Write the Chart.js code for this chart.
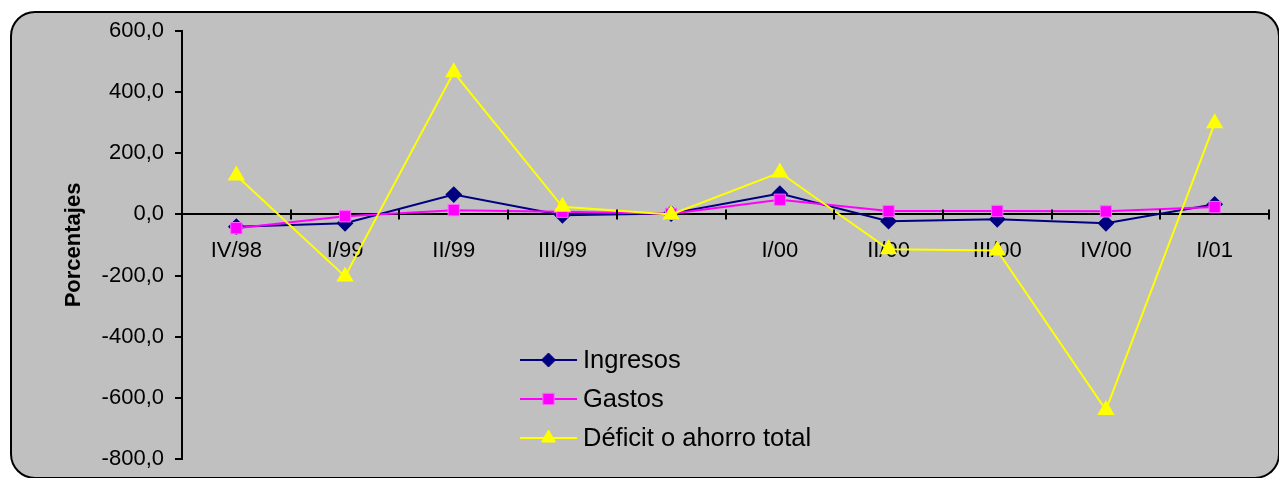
<!DOCTYPE html>
<html>
<head>
<meta charset="utf-8">
<script src="https://cdn.jsdelivr.net/npm/chart.js@4.4.0/dist/chart.umd.min.js"></script>
<style>
  html, body { margin: 0; padding: 0; background: #fff; overflow: hidden; }
  #frame {
    position: absolute; left: 10px; top: 11px; width: 1270px; height: 468px;
    box-sizing: border-box; border: 2px solid #000; border-radius: 25px; background: #c0c0c0;
  }
  #wrap { position: absolute; left: 0; top: 0; width: 1279px; height: 478px; }
</style>
</head>
<body>
<div id="frame"></div>
<div id="wrap"><canvas id="chart"></canvas></div>
<script>
// quarters shown on the x axis
const quarters = ['IV/98', 'I/99', 'II/99', 'III/99', 'IV/99', 'I/00', 'II/00', 'III/00', 'IV/00', 'I/01'];

// values (percent)
const ingresos = [-40, -29, 65, -3, 3, 68, -22, -16, -29, 33];
const gastos = [-45, -6, 14, 9, 2, 48, 11, 11, 10, 24];
const deficit = [127, -203, 465, 25, 0, 137, -114, -118, -640, 298];

const yTicks = [600, 400, 200, 0, -200, -400, -600, -800];

const FONT = '"Liberation Sans", Arial, sans-serif';

function fmt(v) {
    return v.toFixed(1).replace('.', ',');
}

// tick marks crossing the zero line at the category boundaries
const crossTicks = {
    id: 'crossTicks',
    afterDatasetsDraw(chart) {
        const xs = chart.scales.x;
        const ys = chart.scales.y;
        const ctx = chart.ctx;
        const y0 = ys.getPixelForValue(0);
        const step = xs.width / quarters.length;
        ctx.save();
        ctx.strokeStyle = '#000';
        ctx.lineWidth = 2;
        for (let i = 0; i <= quarters.length; i++) {
            const x = Math.round(xs.left + i * step);
            ctx.beginPath();
            ctx.moveTo(x, y0 - 5);
            ctx.lineTo(x, y0 + 5);
            ctx.stroke();
        }
        ctx.restore();
    }
};

// legend drawn inside the plot, like the original
const innerLegend = {
    id: 'innerLegend',
    afterDraw(chart) {
        const ctx = chart.ctx;
        const x1 = 520, x2 = 577;
        const rows = [360, 399, 438];
        ctx.save();
        chart.data.datasets.forEach(function(ds, i) {
            const y = rows[i];
            ctx.strokeStyle = ds.borderColor;
            ctx.lineWidth = 2;
            ctx.beginPath();
            ctx.moveTo(x1, y);
            ctx.lineTo(x2, y);
            ctx.stroke();
            ctx.fillStyle = ds.pointBackgroundColor;
            ctx.strokeStyle = ds.pointBorderColor;
            ctx.lineWidth = 1;
            Chart.helpers.drawPoint(ctx, { pointStyle: ds.pointStyle, radius: ds.pointRadius, borderWidth: 1 }, (x1 + x2) / 2, y);
            ctx.fillStyle = '#000';
            ctx.font = '25.5px ' + FONT;
            ctx.textBaseline = 'middle';
            ctx.fillText(ds.label, x2 + 6, y + 1);
        });
        ctx.restore();
    }
};

const ctx = document.getElementById('chart').getContext('2d');

new Chart(ctx, {
    type: 'line',
    data: {
        labels: quarters,
        datasets: [{
            label: 'Ingresos',
            data: ingresos,
            borderColor: '#000080',
            borderWidth: 2,
            pointStyle: 'rectRot',
            pointRadius: 7,
            pointBackgroundColor: '#000080',
            pointBorderColor: '#000080',
            order: 3
        }, {
            label: 'Gastos',
            data: gastos,
            borderColor: '#ff00ff',
            borderWidth: 2,
            pointStyle: 'rect',
            pointRadius: 8,
            pointBackgroundColor: '#ff00ff',
            pointBorderColor: '#ff66ff',
            pointBorderWidth: 1,
            order: 2
        }, {
            label: 'Déficit o ahorro total',
            data: deficit,
            borderColor: '#ffff00',
            borderWidth: 2,
            pointStyle: 'triangle',
            pointRadius: 8,
            pointBackgroundColor: '#ffff00',
            pointBorderColor: '#ffff00',
            order: 1
        }]
    },
    options: {
        responsive: true,
        maintainAspectRatio: false,
        animation: false,
        layout: { padding: { left: 55, right: 5, top: 31, bottom: 19 } },
        plugins: {
            legend: { display: false },
            tooltip: { enabled: false }
        },
        scales: {
            x: {
                position: { y: 0 },
                offset: true,
                grid: { display: false, drawTicks: false },
                border: { display: true, color: '#000', width: 2 },
                ticks: { color: '#000', padding: 23, maxRotation: 0, autoSkip: false, font: { family: FONT, size: 22 } }
            },
            y: {
                min: -800,
                max: 600,
                afterFit(scale) {
                    scale.width = 127;
                    scale.paddingTop = 0;
                    scale.paddingBottom = 0;
                },
                afterBuildTicks(scale) { scale.ticks = yTicks.map(v => ({ value: v })); },
                grid: { drawOnChartArea: false, tickLength: 7, color: '#000', lineWidth: 2 },
                border: { display: true, color: '#000', width: 2 },
                ticks: { color: '#000', padding: 11, font: { family: FONT, size: 22 }, callback: v => fmt(v) },
                title: {
                    display: true,
                    text: 'Porcentajes',
                    color: '#000',
                    padding: 6,
                    font: { family: FONT, size: 22, weight: 'bold' }
                }
            }
        }
    },
    plugins: [crossTicks, innerLegend]
});
</script>
</body>
</html>
